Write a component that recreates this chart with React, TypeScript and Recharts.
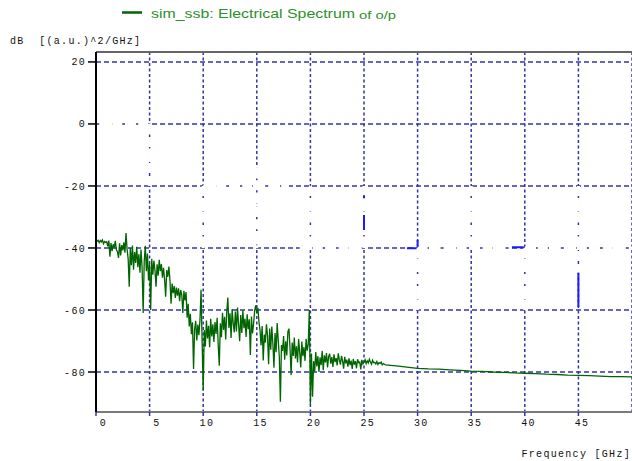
import React from 'react'
import {
  LineChart,
  Line,
  XAxis,
  YAxis,
  CartesianGrid,
  ReferenceLine,
  Legend,
  Label,
} from 'recharts'

// Noisy part of the spectrum: one row per GHz (0..26), samples 0.1 GHz apart, in dB
const noisyRows: number[][] = [
  [-37.2, -37.8, -37.5, -38.3, -37.6, -38.0, -37.4, -38.6, -37.9, -38.2],
  [-38.0, -39.5, -37.6, -42.8, -38.4, -41.0, -38.8, -39.9, -37.7, -40.6],
  [-41.2, -43.2, -38.5, -42.4, -39.1, -40.8, -38.2, -41.5, -35.2, -40.4],
  [-43.5, -52.5, -40.0, -45.6, -39.2, -47.0, -41.3, -44.8, -39.6, -46.2],
  [-42.0, -48.0, -40.5, -46.3, -61.0, -44.2, -39.3, -47.5, -41.8, -50.5],
  [-45.0, -60.0, -43.5, -48.6, -44.1, -47.2, -52.5, -45.3, -48.9, -43.8],
  [-47.5, -45.2, -49.6, -46.4, -50.2, -55.7, -47.1, -49.3, -46.0, -50.5],
  [-58.0, -51.5, -54.6, -52.3, -56.1, -52.8, -55.4, -53.0, -57.2, -53.6],
  [-55.0, -61.0, -53.8, -56.9, -54.2, -62.5, -58.0, -65.3, -61.2, -67.8],
  [-64.0, -79.0, -66.2, -63.5, -69.8, -64.7, -68.1, -63.2, -53.5, -70.2],
  [-86.0, -66.5, -71.8, -63.4, -69.2, -65.1, -72.0, -62.8, -68.5, -64.6],
  [-70.3, -63.9, -67.7, -62.5, -71.2, -78.0, -64.3, -68.8, -60.9, -66.4],
  [-62.2, -69.5, -60.4, -56.0, -65.8, -61.1, -69.0, -59.7, -64.3, -67.2],
  [-60.5, -66.9, -59.2, -64.7, -70.1, -61.6, -67.4, -60.1, -65.9, -62.8],
  [-68.7, -61.4, -66.2, -63.0, -74.5, -62.1, -67.6, -64.4, -60.2, -58.5],
  [-61.0, -59.3, -63.8, -66.5, -71.4, -65.2, -76.3, -67.9, -70.5, -64.6],
  [-68.2, -77.5, -66.0, -72.8, -65.3, -70.9, -78.6, -67.4, -73.6, -64.2],
  [-69.8, -75.1, -89.6, -71.3, -73.2, -68.4, -76.0, -70.1, -74.7, -67.0],
  [-66.0, -72.4, -81.0, -70.5, -74.8, -68.9, -75.6, -71.7, -76.9, -69.4],
  [-73.5, -78.5, -70.2, -74.9, -72.0, -76.4, -69.3, -73.1, -71.0, -60.0],
  [-90.5, -74.0, -88.0, -76.5, -79.8, -73.6, -78.2, -74.9, -80.0, -75.3],
  [-77.8, -73.2, -79.4, -74.6, -76.9, -73.9, -78.5, -75.0, -74.1, -77.3],
  [-75.2, -78.4, -74.3, -76.8, -75.5, -77.9, -74.0, -76.1, -77.6, -74.8],
  [-76.4, -78.9, -75.1, -77.2, -76.0, -78.3, -75.6, -77.8, -76.3, -79.0],
  [-75.8, -77.6, -76.5, -78.8, -75.9, -77.0, -76.8, -79.2, -76.1, -77.4],
  [-76.7, -76.0, -77.3, -76.4, -77.1, -75.9, -76.8, -77.5, -76.2, -77.0],
  [-76.9, -77.4, -76.6, -77.6, -77.0, -77.2, -76.8, -77.7, -77.3, -77.5],
]
const noisyStep = 0.1

// smooth tail of the spectrum
const tailFreqs = [27, 28, 29, 30, 31, 32, 33, 34, 35, 36, 37, 38, 39, 40, 41, 42, 43, 44, 45, 46, 47, 48, 49, 50]
const tailValues = [
  -77.7, -78.0, -78.4, -78.8, -79.0, -79.1, -79.3, -79.5, -79.7, -79.8, -80.0, -80.1,
  -80.3, -80.4, -80.5, -80.7, -80.8, -81.0, -81.1, -81.2, -81.3, -81.5, -81.5, -81.6,
]

// little blue marks of the second trace: [f1, dB1, f2, dB2]
const blueSegments: number[][] = [
  [25, -23.0, 25, -24.0],
  [25, -29.4, 25, -34.2],
  [29.0, -40.1, 29.9, -40.1],
  [30.0, -37.4, 30.0, -39.6],
  [38.8, -39.8, 39.9, -39.8],
  [45, -48, 45, -59],
]

// white trace that hides parts of the grid: [f1, dB1, f2, dB2]
const hiddenSegments: number[][] = [
  [0.3, 0, 5, 0],
  [5, 0, 5, -20],
  [10, -20, 18, -20],
  [10, -20, 10, -40],
  [15, -14, 15, -40],
  [20, -20, 20, -40],
  [25, -20, 25, -40],
  [19, -40, 25, -40],
  [30, -40, 38.8, -40],
  [40, -40, 50, -40],
  [30, -40, 30, -60],
  [35, -20, 35, -40],
  [40, -40, 40, -60],
  [45, -20, 45, -48],
]

const xTicks = [0, 5, 10, 15, 20, 25, 30, 35, 40, 45]
const yTicks = [-80, -60, -40, -20, 0, 20]
const xDomain: [number, number] = [0, 50]
const yDomain: [number, number] = [-92.9, 23.2]

const gridColor = '#3434a6'
const monoFont = 'Liberation Mono, monospace'

const spectrum: { f: number; v: number }[] = []
noisyRows.forEach((row, g) =>
  row.forEach((v, i) => spectrum.push({ f: Number((g + i * noisyStep).toFixed(2)), v }))
)
tailFreqs.forEach((f, i) => spectrum.push({ f, v: tailValues[i] }))

// turn segments into one series, broken by nulls
const toSeries = (segs: number[][]) => {
  const out: { f: number; s: number | null }[] = []
  segs.forEach(([f1, v1, f2, v2]) => {
    out.push({ f: f1, s: v1 }, { f: f2, s: v2 }, { f: f2, s: null })
  })
  return out
}
const blueData = toSeries(blueSegments)
const hiddenData = toSeries(hiddenSegments)

const XTick = (props: any) => {
  const { x, y, payload } = props
  return (
    <text
      x={x + 11}
      y={y + 8}
      textAnchor="end"
      fontFamily={monoFont}
      fontSize={10}
      letterSpacing={1.3}
      fill="#111"
    >
      {payload.value}
    </text>
  )
}

const LegendBox = () => (
  <svg width={632} height={26}>
    <line x1={122} y1={12.5} x2={142} y2={12.5} stroke="#006400" strokeWidth={2.5} />
    <text
      x={151}
      y={17.5}
      fontFamily="Liberation Sans, Arial, sans-serif"
      fontSize={13}
      fill="#2a922a"
      textLength={204}
      lengthAdjust="spacingAndGlyphs"
    >
      sim_ssb: Electrical Spectrum
    </text>
    <text
      x={359}
      y={18.5}
      fontFamily="Liberation Sans, Arial, sans-serif"
      fontSize={11}
      fill="#2a922a"
      textLength={37}
      lengthAdjust="spacingAndGlyphs"
    >
      of o/p
    </text>
  </svg>
)

export default function App() {
  return (
    <div style={{ position: 'absolute', left: 0, top: 0, background: '#fff' }}>
      <LineChart
        width={632}
        height={461}
        data={spectrum}
        margin={{ top: 52, right: 0, bottom: 0, left: 0 }}
      >
        <CartesianGrid
          vertical={false}
          stroke={gridColor}
          strokeWidth={1.5}
          strokeDasharray="5 3"
        />
        <CartesianGrid
          horizontal={false}
          stroke={gridColor}
          strokeWidth={1.5}
          strokeDasharray="3 2.5"
        />
        <XAxis
          dataKey="f"
          type="number"
          domain={xDomain}
          ticks={xTicks}
          allowDataOverflow
          height={49}
          tickSize={4}
          tickLine={{ stroke: gridColor, strokeWidth: 1.5 }}
          axisLine={{ stroke: '#7a7a7a', strokeWidth: 2 }}
          tick={<XTick />}
        >
          <Label
            content={() => (
              <text
                x={631}
                y={457}
                textAnchor="end"
                fontFamily={monoFont}
                fontSize={10}
                letterSpacing={1.3}
                fill="#111"
              >
                Frequency [GHz]
              </text>
            )}
          />
        </XAxis>
        <YAxis
          type="number"
          domain={yDomain}
          ticks={yTicks}
          allowDataOverflow
          width={96}
          tickSize={8}
          tickMargin={2}
          tickLine={{ stroke: '#000', strokeWidth: 1.5 }}
          axisLine={{ stroke: '#000', strokeWidth: 2 }}
          tick={{ fontFamily: monoFont, fontSize: 10, fill: '#111', letterSpacing: 1.3 }}
        >
          <Label
            content={() => (
              <text
                x={10}
                y={44}
                fontFamily={monoFont}
                fontSize={10}
                letterSpacing={1.3}
                fill="#111"
                style={{ whiteSpace: 'pre' }}
              >
                {'dB  [(a.u.)^2/GHz]'}
              </text>
            )}
          />
        </YAxis>
        <ReferenceLine y={yDomain[1]} stroke="#666" strokeWidth={2} />
        <Line
          data={hiddenData}
          dataKey="s"
          stroke="#ffffff"
          strokeWidth={3}
          strokeDasharray="10 3"
          dot={false}
          activeDot={false}
          connectNulls={false}
          isAnimationActive={false}
          legendType="none"
        />
        <Line
          dataKey="v"
          name="sim_ssb: Electrical Spectrum"
          stroke="#006400"
          strokeWidth={1.3}
          dot={false}
          activeDot={false}
          isAnimationActive={false}
        />
        <Line
          data={blueData}
          dataKey="s"
          stroke="#1a1aff"
          strokeWidth={2}
          dot={false}
          activeDot={false}
          connectNulls={false}
          isAnimationActive={false}
          legendType="none"
        />
        <Legend
          layout="horizontal"
          verticalAlign="middle"
          align="center"
          wrapperStyle={{ top: 0, left: 0, width: 632, height: 26 }}
          content={() => <LegendBox />}
        />
      </LineChart>
    </div>
  )
}
